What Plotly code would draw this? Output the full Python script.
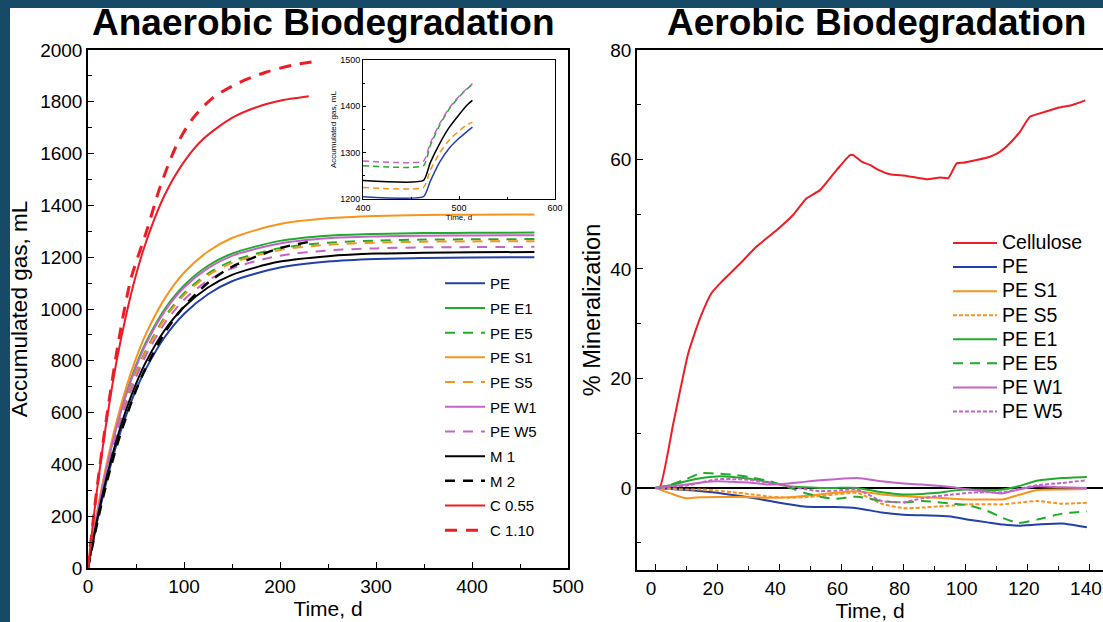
import plotly.graph_objects as go

# ---------------- anaerobic (left panel) ----------------
t_pe = [0, 10, 20, 30, 40, 50, 60, 80, 100, 125, 150, 200, 250, 300, 350, 400, 465]
gas_pe = [0, 188, 346, 480, 592, 688, 767, 892, 981, 1057, 1107, 1160, 1183, 1193, 1197, 1199, 1200]
gas_pe_e1 = [0, 219, 400, 551, 677, 782, 869, 1000, 1091, 1167, 1214, 1263, 1283, 1290, 1293, 1294, 1295]
gas_pe_e5 = [0, 209, 384, 530, 651, 753, 838, 969, 1061, 1137, 1185, 1235, 1256, 1264, 1268, 1269, 1270]
gas_pe_s1 = [0, 225, 412, 569, 700, 809, 901, 1041, 1140, 1222, 1274, 1328, 1350, 1359, 1363, 1364, 1365]
gas_pe_s5 = [0, 208, 382, 526, 647, 748, 832, 963, 1054, 1130, 1178, 1228, 1248, 1256, 1260, 1261, 1262]
gas_pe_w1 = [0, 217, 397, 547, 672, 776, 862, 992, 1083, 1158, 1205, 1253, 1273, 1280, 1283, 1284, 1285]
gas_pe_w5 = [0, 204, 375, 517, 636, 735, 818, 946, 1036, 1110, 1157, 1206, 1226, 1234, 1238, 1239, 1240]
gas_m1 = [0, 196, 360, 498, 614, 711, 793, 919, 1008, 1083, 1132, 1183, 1204, 1214, 1217, 1219, 1220]

t_m2 = [0, 10, 20, 30, 40, 50, 60, 80, 100, 125, 150, 200, 230]
gas_m2 = [0, 181, 337, 471, 586, 686, 771, 909, 1010, 1101, 1163, 1235, 1259]

t_c055 = [0, 5, 10, 20, 30, 40, 50, 60, 80, 100, 120, 150, 180, 200, 230]
gas_c055 = [0, 168, 319, 583, 803, 981, 1131, 1254, 1441, 1568, 1656, 1738, 1785, 1804, 1821]
t_c110 = [0, 5, 10, 20, 33, 45, 61, 75, 92, 109, 130, 158, 186, 214, 235]
gas_c110 = [0, 170, 326, 597, 900, 1120, 1300, 1470, 1630, 1735, 1815, 1875, 1915, 1942, 1955]

# inset (zoom on the second feeding)
in_t = [400, 463, 470, 480, 490, 500, 508, 514]
in_pe = [1205, 1205, 1238, 1280, 1310, 1331, 1345, 1355]
in_s5 = [1225, 1225, 1262, 1300, 1328, 1347, 1360, 1366]
in_m1 = [1240, 1240, 1278, 1320, 1355, 1382, 1402, 1413]
in_e5 = [1272, 1272, 1315, 1360, 1395, 1420, 1437, 1447]
in_w5 = [1282, 1282, 1320, 1363, 1397, 1422, 1438, 1449]

# ---------------- aerobic (right panel) ----------------
t_cell = [0, 1.6, 5.9, 10.7, 14.5, 18.2, 21.5, 27.4, 32.7, 39.2, 44.5, 48.8, 53.1, 58.5, 62.8,
          63.8, 66.5, 69.2, 71.9, 75.6, 81.0, 87.4, 91.7, 94.4, 97.1, 99.2, 103.5, 107.8,
          111.0, 114.3, 117.5, 120.7, 125, 130, 134, 138.5]
min_cell = [0, 0.2, 11.8, 24.6, 31.0, 35.6, 37.7, 41.0, 44.1, 47.1, 49.9, 52.9, 54.4, 58.1, 60.8,
            60.8, 59.6, 59.0, 58.1, 57.3, 57.0, 56.4, 56.7, 56.6, 59.3, 59.4, 59.9, 60.5,
            61.4, 63.0, 65.1, 67.8, 68.6, 69.5, 69.9, 70.8]

t_aer = [0, 5, 10, 15, 20, 25, 30, 37, 43, 48, 53, 58, 65, 73, 80, 86, 91, 96, 101, 107, 112, 117, 123, 131, 139]
min_pe = [0, -0.2, -0.4, -0.6, -0.9, -1.3, -1.7, -2.4, -3.0, -3.4, -3.5, -3.5, -3.7, -4.5, -4.9, -5.0,
          -5.1, -5.3, -5.8, -6.3, -6.7, -6.9, -6.7, -6.5, -7.2]
min_s1 = [0, -1.0, -1.9, -1.7, -1.65, -1.65, -1.7, -1.8, -1.7, -1.5, -1.2, -0.9, -0.6, -1.2, -1.5, -1.7,
          -1.8, -2.0, -2.1, -2.1, -2.1, -1.3, -0.4, -0.3, -0.2]
min_s5 = [0, -0.2, -0.3, -0.3, -0.5, -0.8, -1.1, -1.6, -1.8, -1.7, -1.5, -1.2, -0.9, -2.9, -3.7, -3.6,
          -3.4, -3.2, -3.0, -3.0, -3.0, -2.7, -2.4, -2.9, -2.7]
min_e1 = [0, 0.5, 1.2, 1.8, 2.1, 2.0, 1.7, 1.0, 0.3, 0.1, 0, 0, 0, -0.8, -1.2, -1.1,
          -0.9, -0.5, -0.3, -0.4, -0.3, 0.3, 1.3, 1.8, 2.0]
min_e5 = [0, 0.6, 1.6, 2.7, 2.6, 2.4, 2.0, 1.2, 0.1, -0.9, -1.6, -2.0, -1.6, -2.4, -2.7, -2.4,
          -2.6, -2.9, -3.2, -4.2, -5.5, -6.4, -5.8, -4.7, -4.3]
min_w1 = [0, 0.3, 0.6, 1.0, 1.2, 1.1, 1.0, 0.6, 0.8, 1.1, 1.4, 1.6, 1.8, 1.2, 0.8, 0.6,
          0.4, 0.1, -0.3, -0.7, -1.0, -0.3, 0.3, 0.1, 0.0]
min_w5 = [0, 0.2, 0.4, 1.0, 1.6, 1.6, 1.5, 0.9, 0.3, -0.2, -0.6, -0.5, -0.3, -2.4, -2.6, -1.9,
          -1.5, -1.2, -0.9, -0.8, -0.8, -0.2, 0.5, 0.9, 1.4]

BLUE = "#2340a8"
GREEN = "#22aa2a"
ORANGE = "#f7941d"
PURPLE = "#c264c8"
RED = "#ee1c24"
BLACK = "#000000"
FONT = "Arial, Liberation Sans, sans-serif"

W, H = 1103, 622


def px_x(p):
    return p / W


def px_y(p):
    return 1 - p / H


fig = go.Figure()

# left panel traces, in legend order
left = [
    ("PE", t_pe, gas_pe, BLUE, "solid", 2),
    ("PE E1", t_pe, gas_pe_e1, GREEN, "solid", 2),
    ("PE E5", t_pe, gas_pe_e5, GREEN, "10px,8px", 2),
    ("PE S1", t_pe, gas_pe_s1, ORANGE, "solid", 2),
    ("PE S5", t_pe, gas_pe_s5, ORANGE, "10px,8px", 2),
    ("PE W1", t_pe, gas_pe_w1, PURPLE, "solid", 2),
    ("PE W5", t_pe, gas_pe_w5, PURPLE, "10px,8px", 2),
    ("M 1", t_pe, gas_m1, BLACK, "solid", 2),
    ("M 2", t_m2, gas_m2, BLACK, "10px,8px", 2.5),
    ("C 0.55", t_c055, gas_c055, RED, "solid", 2),
    ("C 1.10", t_c110, gas_c110, RED, "12px,9px", 3),
]
for name, x, y, col, dash, w in left:
    fig.add_trace(go.Scatter(
        x=x, y=y, name=name, mode="lines",
        line=dict(color=col, dash=dash, width=w, shape="spline", smoothing=0.8),
        legend="legend", legendgroup=name,
        xaxis="x", yaxis="y",
    ))

# inset traces
inset = [
    (in_t, in_pe, BLUE, "solid"),
    (in_t, in_s5, ORANGE, "6px,4px"),
    (in_t, in_m1, BLACK, "solid"),
    (in_t, in_e5, GREEN, "6px,4px"),
    (in_t, in_w5, PURPLE, "6px,4px"),
]
for x, y, col, dash in inset:
    fig.add_trace(go.Scatter(
        x=x, y=y, mode="lines", showlegend=False,
        line=dict(color=col, dash=dash, width=1.5, shape="spline", smoothing=0.5),
        xaxis="x3", yaxis="y3",
    ))

# right panel traces
right = [
    ("Cellulose", t_cell, min_cell, RED, "solid"),
    ("PE", t_aer, min_pe, BLUE, "solid"),
    ("PE S1", t_aer, min_s1, ORANGE, "solid"),
    ("PE S5", t_aer, min_s5, ORANGE, "4px,2px"),
    ("PE E1", t_aer, min_e1, GREEN, "solid"),
    ("PE E5", t_aer, min_e5, GREEN, "10px,7px"),
    ("PE W1", t_aer, min_w1, PURPLE, "solid"),
    ("PE W5", t_aer, min_w5, PURPLE, "4px,2px"),
]
for name, x, y, col, dash in right:
    fig.add_trace(go.Scatter(
        x=x, y=y, mode="lines",
        # bigger text than the legend font, so rows stay tight like the original
        name="<span style='font-size:19.5px'>%s</span>" % name,
        line=dict(color=col, dash=dash, width=2, shape="spline", smoothing=0.5),
        legend="legend2", legendgroup="r_" + name,
        xaxis="x2", yaxis="y2",
    ))

tickfont = dict(family=FONT, size=19, color="black")
frame = dict(showline=True, linecolor="black", linewidth=1.5, mirror=True,
             showgrid=False, zeroline=False, ticks="inside", ticklen=6,
             tickcolor="black", tickfont=tickfont, automargin=False)

fig.update_layout(
    width=W, height=H,
    margin=dict(l=0, r=0, t=0, b=0, autoexpand=False),
    paper_bgcolor="#164a66",
    plot_bgcolor="white",
    font=dict(family=FONT, color="black"),
    xaxis=dict(frame, domain=[px_x(88), px_x(568)], range=[0, 500], dtick=100,
               minor=dict(ticks="inside", dtick=50, ticklen=4, tickcolor="black"),
               anchor="y",
               title=dict(text="Time, d", font=dict(size=21), standoff=3)),
    yaxis=dict(frame, domain=[px_y(568), px_y(50)], range=[0, 2000], dtick=200,
               minor=dict(ticks="inside", dtick=100, ticklen=4, tickcolor="black"),
               anchor="x",
               title=dict(text="Accumulated gas, mL", font=dict(size=22.5), standoff=6)),
    xaxis2=dict(frame, domain=[px_x(637), 1.0], range=[-5.8, 144.2], dtick=20, tick0=0,
                minor=dict(ticks="inside", dtick=10, ticklen=4, tickcolor="black"),
                anchor="y2", ticklabeloverflow="allow", ticklabelshift=-4,
                title=dict(text="Time, d", font=dict(size=21), standoff=3)),
    yaxis2=dict(frame, domain=[px_y(570), px_y(50)], range=[-15, 80], dtick=20, tick0=0,
                mirror=False,
                zeroline=True, zerolinecolor="black", zerolinewidth=1.5,
                minor=dict(ticks="inside", dtick=10, ticklen=4, tickcolor="black"),
                anchor="x2",
                title=dict(text="% Mineralization", font=dict(size=23.5), standoff=3)),
    xaxis3=dict(frame, domain=[px_x(363), px_x(555)], range=[400, 600], dtick=100,
                linewidth=1, ticklen=3, tickfont=dict(size=9),
                minor=dict(ticks="inside", dtick=50, ticklen=2, tickcolor="black"),
                anchor="y3",
                title=dict(text="Time, d", font=dict(size=8), standoff=1)),
    yaxis3=dict(frame, domain=[px_y(199), px_y(60)], range=[1200, 1500], dtick=100,
                linewidth=1, ticklen=3, tickfont=dict(size=9),
                minor=dict(ticks="inside", dtick=50, ticklen=2, tickcolor="black"),
                anchor="x3",
                title=dict(text="Accumulated gas, mL", font=dict(size=8), standoff=2)),
    legend=dict(x=px_x(440), y=px_y(267), xanchor="left", yanchor="top",
                bgcolor="rgba(0,0,0,0)", font=dict(size=15),
                traceorder="grouped", tracegroupgap=2.2, itemwidth=40),
    legend2=dict(x=px_x(948), y=px_y(226), xanchor="left", yanchor="top",
                 bgcolor="rgba(0,0,0,0)", font=dict(size=16.2),
                 traceorder="grouped", tracegroupgap=0, itemwidth=44),
    shapes=[dict(type="rect", xref="paper", yref="paper",
                 x0=px_x(10), x1=1.0, y0=0, y1=px_y(8),
                 fillcolor="white", line_width=0, layer="below")],
    annotations=[
        dict(text="<b>Anaerobic Biodegradation</b>", xref="paper", yref="paper",
             x=px_x(323), y=px_y(23), xanchor="center", yanchor="middle",
             showarrow=False, font=dict(size=37)),
        dict(text="<b>Aerobic Biodegradation</b>", xref="paper", yref="paper",
             x=px_x(876), y=px_y(23), xanchor="center", yanchor="middle",
             showarrow=False, font=dict(size=37)),
    ],
)

fig.write_html(
    "out.html",
    config={"displayModeBar": False},
    post_script="document.body.style.margin='0';document.body.style.overflow='hidden';",
)
